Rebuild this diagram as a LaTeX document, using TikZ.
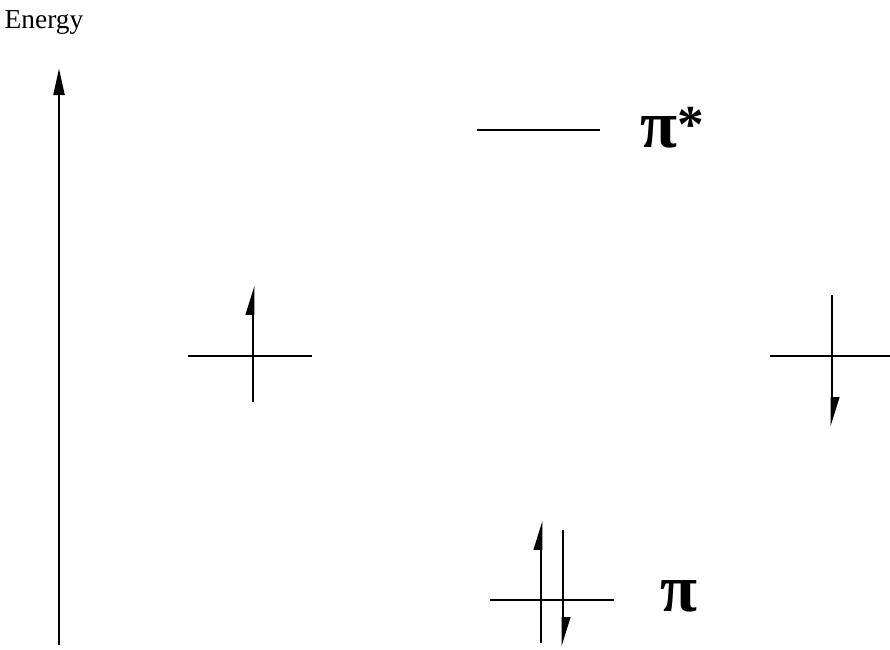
\documentclass[tikz,border=0pt]{standalone}
\usepackage{fontspec}
\setmainfont{Liberation Serif}
\usetikzlibrary{arrows.meta,positioning}
\begin{document}
\begin{tikzpicture}[x=1cm,y=1cm,line width=2.1pt,
level/.style={line width=1.9pt},
spin/.style={-{Triangle[left,length=0.62cm,width=0.36cm]}},
orb/.style={font=\fontsize{48}{48}\bfseries}]
\useasboundingbox(0,0)rectangle(22.25,16.25);
% energy axis
\node(energy)at(1.1,15.7){\fontsize{19.5}{19.5}\selectfont Energy};
\draw[-{Triangle[length=0.68cm,width=0.27cm]}](1.475,0.125)--(1.475,14.55);
% singly occupied levels
\draw[level](4.7,7.35)--(7.8,7.35);
\draw[spin](6.325,6.2)--(6.325,9.125);
\draw[level](19.25,7.35)--(22.25,7.35);
\draw[spin](20.8,8.875)--(20.8,5.575);
% pi* and pi
\draw[level](11.925,13)--(15,13);
\node[orb,anchor=west](pistar)at(15.85,13.05){π\raisebox{0.15ex}{\fontsize{38}{38}\selectfont *}};
\draw[level](12.25,1.25)--(15.35,1.25);
\draw[spin](13.525,0.175)--(13.525,3.25);
\draw[spin](14.075,3.0)--(14.075,0.075);
\node[orb,anchor=west](pi)at(16.35,1.35){π};
\end{tikzpicture}
\end{document}
